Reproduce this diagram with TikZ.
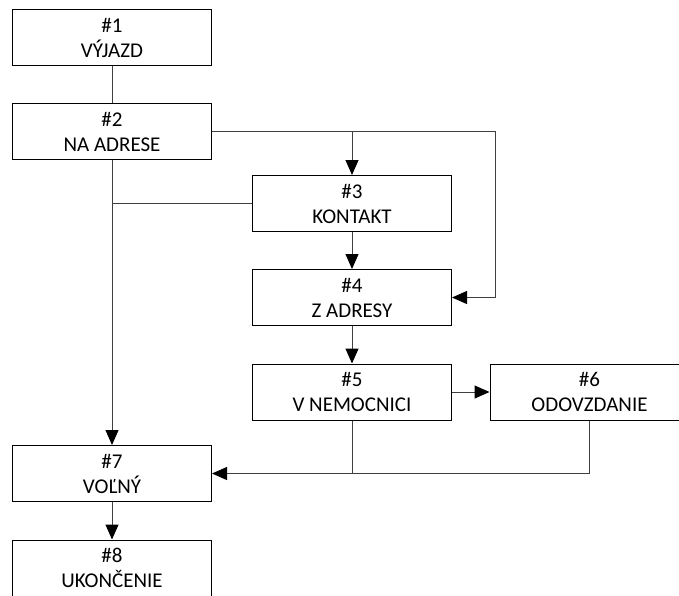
\documentclass[tikz,border=0pt]{standalone}
\usepackage{fontspec}
\setmainfont{Carlito}
\usetikzlibrary{arrows.meta}

\tikzset{
  state/.style={draw=black,line width=1pt,minimum width=199pt,minimum height=56pt,
    inner sep=0pt,align=center,font=\fontsize{21}{25}\selectfont},
  link/.style={draw=black!75,line width=1pt},
  flow/.style={link,-{Triangle[length=15pt,width=13pt,fill=black,color=black]}}
}

\begin{document}
\begin{tikzpicture}[line cap=butt,line join=miter,x=1pt,y=-1pt]
\useasboundingbox (0,0) rectangle (679,595);
\clip (0,0) rectangle (679,595);
\node[state] (vyjazd) at (112,37.5) {\#1\\VÝJAZD};
\node[state] (adresa) at (112,131.5) {\#2\\NA ADRESE};
\node[state] (kontakt) at (352,203.5) {\#3\\KONTAKT};
\node[state] (zadresy) at (352,297.5) {\#4\\Z ADRESY};
\node[state] (nemocnica) at (352,392) {\#5\\V NEMOCNICI};
\node[state] (odovzd) at (589.5,392) {\#6\\ODOVZDANIE};
\node[state] (volny) at (112,473.5) {\#7\\VOĽNÝ};
\node[state] (koniec) at (112,568) {\#8\\UKONČENIE};
\coordinate (obch) at (495,131.5);
\coordinate (rozv) at (352,131.5);
\coordinate (zber) at (352,473.5);
% spojenia
\draw[link] (vyjazd) -- (adresa);
\draw[flow] (adresa.east) -- (obch) |- (zadresy.east);
\draw[flow] (rozv) -- (kontakt.north);
\draw[flow] (kontakt) -- (zadresy);
\draw[flow] (zadresy) -- (nemocnica);
\draw[flow] (nemocnica) -- (odovzd);
\draw[flow] (adresa) -- (volny);
\draw[link] (kontakt.west) -- (kontakt.west -| adresa);
\draw[link] (nemocnica.south) -- (zber);
\draw[flow] (odovzd.south) |- (volny.east);
\draw[flow] (volny) -- (koniec);
\end{tikzpicture}
\end{document}
